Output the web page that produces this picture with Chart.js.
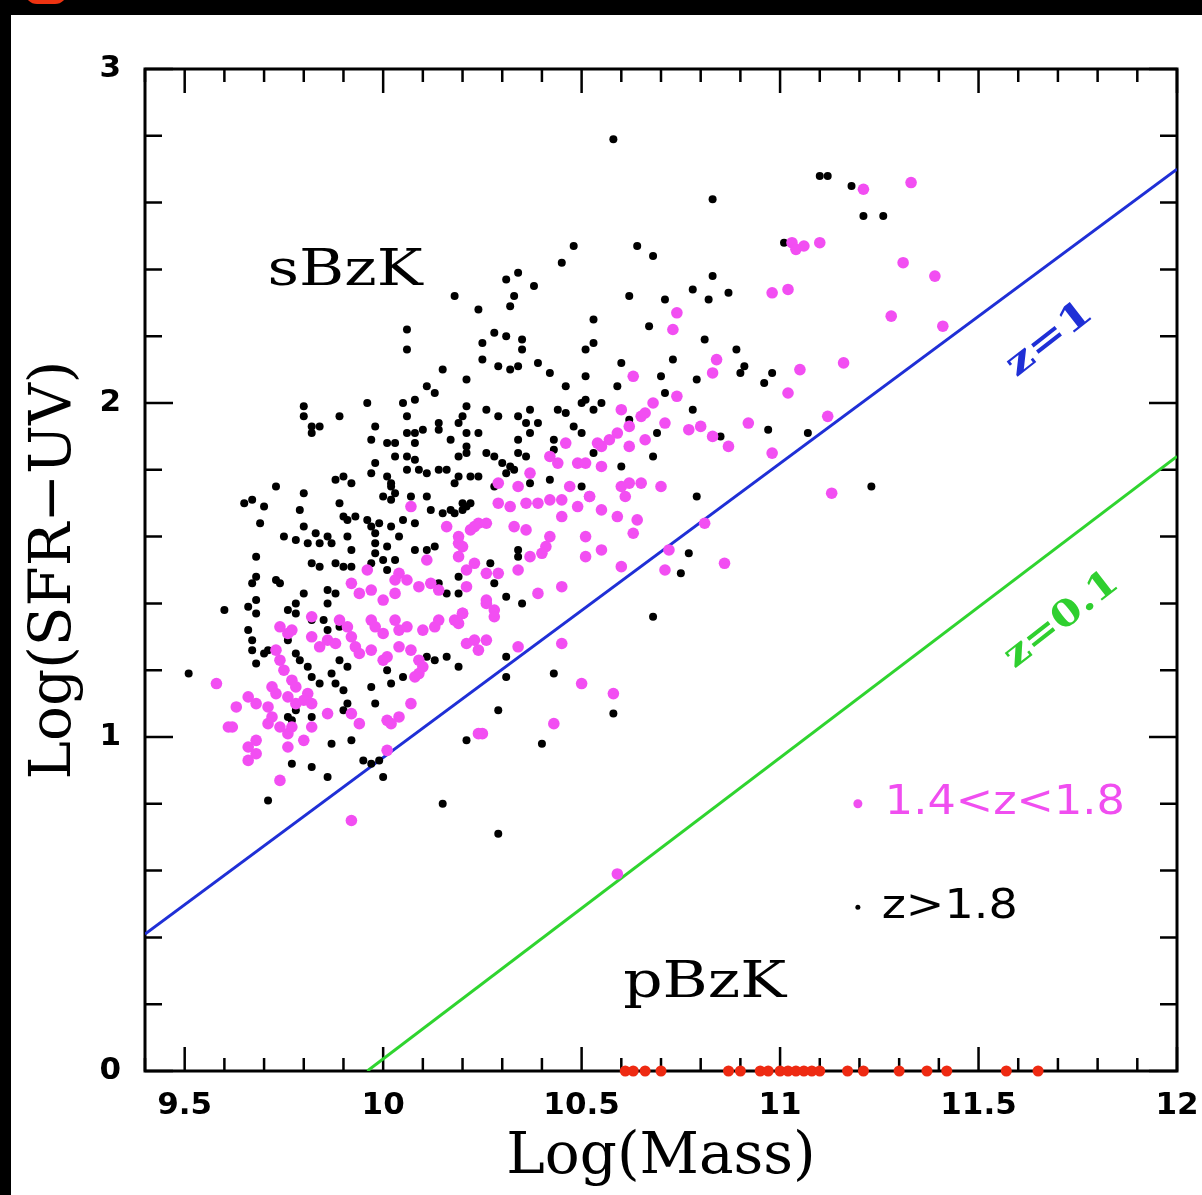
<!DOCTYPE html>
<html>
<head>
<meta charset="utf-8">
<script src="https://cdn.jsdelivr.net/npm/chart.js@4.4.1/dist/chart.umd.min.js"></script>
<style>
  html, body { margin: 0; padding: 0; background: #000; overflow: hidden; }
  #sheet { position: absolute; left: 11px; top: 15px; width: 1191px; height: 1180px; background: #fff; }
  #blob { position: absolute; left: 25px; top: -20px; width: 42px; height: 24px; border-radius: 12px; background: #ee3311; }
  #chart { position: absolute; left: 0; top: 0; }
</style>
</head>
<body>
<div id="sheet"></div>
<div id="blob"></div>
<canvas id="chart" width="1202" height="1195"></canvas>
<script>
// galaxies with z > 1.8 : [log mass, log SFR]
const highZ = [
  [10.58,2.79],[10.83,2.61],[11.10,2.68],[11.12,2.68],[11.18,2.65],[11.21,2.56],[11.26,2.56],[11.01,2.48],
  [10.48,2.47],[10.64,2.47],[10.68,2.44],[10.45,2.42],[10.34,2.39],[10.31,2.37],[10.38,2.35],[10.33,2.32],
  [10.32,2.29],[10.18,2.32],[10.24,2.28],[10.62,2.32],[10.71,2.31],[10.78,2.34],[10.83,2.38],[10.82,2.31],
  [10.87,2.33],[10.53,2.25],[10.67,2.23],[10.06,2.22],[10.06,2.16],[10.25,2.18],[10.25,2.13],[10.28,2.21],
  [10.31,2.20],[10.35,2.19],[10.35,2.16],[10.51,2.16],[10.53,2.18],[10.81,2.19],[10.15,2.10],[10.21,2.07],
  [10.11,2.05],[10.13,2.03],[10.29,2.11],[10.32,2.10],[10.34,2.11],[10.39,2.12],[10.42,2.09],[10.60,2.12],
  [10.73,2.13],[10.89,2.16],[10.51,2.08],[10.46,2.05],[10.70,2.08],[10.59,2.05],[10.79,2.07],[10.90,2.09],
  [10.96,2.06],[10.98,2.09],[10.91,2.11],
  [9.80,1.99],[9.80,1.96],[9.82,1.93],[9.84,1.93],[9.82,1.91],[9.89,1.96],[9.96,2.00],[10.05,2.00],
  [10.08,2.01],[10.06,1.96],[9.98,1.93],[10.06,1.91],[10.08,1.91],[10.10,1.92],[10.14,1.94],[10.14,1.92],
  [10.21,1.99],[10.20,1.96],[10.19,1.94],[10.21,1.91],[10.26,1.98],[9.97,1.89],[10.01,1.88],[10.03,1.88],
  [10.08,1.88],[10.17,1.89],[10.21,1.87],[10.24,1.91],[10.29,1.96],[10.34,1.96],[10.37,1.98],[10.36,1.94],
  [10.39,1.94],[10.37,1.91],[10.44,1.98],[10.46,1.97],[10.50,2.00],[10.51,2.01],[10.55,2.00],[10.53,1.98],
  [10.34,1.89],[10.43,1.89],[10.48,1.93],[10.50,1.91],[10.71,2.03],[10.78,1.98],[10.69,1.91],[10.85,1.90],
  [10.97,1.92],[10.62,1.95],[11.07,1.91],[11.23,1.75],
  [10.21,1.85],[10.19,1.84],[10.26,1.85],[10.03,1.84],[9.98,1.82],[10.06,1.84],[10.08,1.83],[9.88,1.77],
  [9.92,1.76],[9.90,1.78],[9.97,1.79],[10.01,1.78],[10.02,1.76],[10.02,1.75],[10.06,1.80],[10.09,1.80],
  [10.11,1.79],[10.14,1.80],[10.16,1.80],[10.19,1.78],[10.18,1.76],[10.22,1.78],[10.24,1.78],[10.28,1.84],
  [10.30,1.82],[10.32,1.81],[10.34,1.85],[10.36,1.84],[10.31,1.79],[10.33,1.80],[10.43,1.86],[10.53,1.85],
  [10.60,1.81],[10.68,1.84],[10.28,1.75],[10.22,1.70],[10.20,1.68],[10.18,1.67],[10.42,1.77],[10.37,1.76],
  [10.50,1.75],[10.79,1.72],
  [9.73,1.75],[9.80,1.73],[9.65,1.70],[9.67,1.71],[9.70,1.69],[9.69,1.64],[9.79,1.68],[9.89,1.70],
  [9.90,1.66],[10.00,1.72],[10.02,1.71],[10.03,1.73],[10.07,1.72],[10.11,1.72],[10.12,1.68],[10.15,1.67],
  [10.17,1.68],[10.20,1.70],[10.21,1.69],[9.91,1.65],[9.93,1.66],[9.96,1.65],[9.97,1.63],[9.99,1.64],
  [10.02,1.63],[10.05,1.65],[10.08,1.64],[9.80,1.63],[9.83,1.61],[9.86,1.60],[9.87,1.58],[9.91,1.60],
  [9.92,1.56],[9.98,1.61],[9.98,1.58],[9.98,1.55],[10.00,1.53],[10.01,1.57],[10.04,1.60],[9.75,1.60],
  [9.78,1.59],[9.81,1.58],[9.84,1.58],[10.08,1.56],[10.11,1.56],[10.13,1.57],
  [9.68,1.54],[9.68,1.48],[9.67,1.46],[9.68,1.41],[9.74,1.46],[9.73,1.47],[9.82,1.52],[9.84,1.51],
  [9.88,1.52],[9.90,1.51],[9.92,1.51],[9.97,1.52],[10.01,1.50],[10.03,1.53],[9.86,1.44],[9.88,1.43],
  [9.86,1.40],[9.80,1.43],[9.78,1.40],[9.76,1.38],[10.14,1.46],[10.16,1.43],[10.19,1.43],[9.60,1.38],
  [9.66,1.39],[9.68,1.37],[9.78,1.37],[9.82,1.35],[9.85,1.35],[9.86,1.32],[9.89,1.33],[9.66,1.32],
  [9.67,1.29],[9.67,1.26],[9.70,1.25],[9.68,1.22],[9.71,1.26],[9.76,1.29],[9.78,1.25],[9.79,1.23],
  [9.81,1.21],[9.82,1.18],[9.84,1.16],[9.89,1.23],[9.91,1.21],[9.87,1.19],[9.88,1.16],[9.90,1.14],
  [9.91,1.10],[9.90,1.08],[9.97,1.15],[9.98,1.10],[10.01,1.20],[10.05,1.18],[10.02,1.16],[10.11,1.24],
  [10.13,1.23],[10.16,1.24],[10.19,1.21],[9.51,1.19],[9.76,1.06],[9.78,1.08],[9.82,1.06],[9.87,0.98],
  [9.92,0.99],[10.21,0.99],[9.77,0.92],[9.82,0.91],[9.95,0.93],[9.97,0.92],[9.77,1.05],[9.86,0.88],
  [9.99,0.93],[10.00,0.88],[9.71,0.81],[10.15,0.80],[10.29,0.71],
  [10.34,1.56],[10.34,1.54],[10.27,1.52],[10.28,1.46],[10.19,1.48],[10.31,1.42],[10.35,1.40],[10.77,1.55],
  [10.75,1.49],[10.68,1.36],[10.31,1.24],[10.31,1.18],[10.43,1.19],[10.29,1.08],[10.58,1.07],[10.40,0.98]
]

// galaxies with 1.4 < z < 1.8
const midZ = [
  [11.21,2.64],[11.33,2.66],[11.03,2.48],[11.04,2.46],[11.06,2.47],[11.10,2.48],[11.31,2.42],[11.39,2.38],
  [10.98,2.33],[11.02,2.34],[11.28,2.26],[11.41,2.23],[11.16,2.12],[11.05,2.10],[11.02,2.03],[10.92,1.94],
  [11.12,1.96],[10.98,1.85],[11.13,1.73],
  [10.74,2.27],[10.73,2.22],[10.84,2.13],[10.83,2.09],[10.63,2.08],[10.74,2.02],[10.68,2.00],[10.60,1.98],
  [10.65,1.96],[10.66,1.97],[10.71,1.94],[10.77,1.92],[10.80,1.93],[10.83,1.90],[10.87,1.87],[10.62,1.93],
  [10.59,1.91],[10.46,1.88],[10.55,1.87],[10.57,1.89],[10.54,1.88],[10.62,1.87],[10.66,1.89],[10.42,1.84],
  [10.44,1.82],[10.49,1.82],[10.51,1.82],[10.55,1.81],[10.37,1.79],[10.29,1.76],[10.34,1.75],[10.47,1.75],
  [10.52,1.72],[10.60,1.75],[10.62,1.76],[10.61,1.72],[10.65,1.76],[10.70,1.75],[10.29,1.70],[10.32,1.69],
  [10.36,1.70],[10.39,1.70],[10.42,1.71],[10.45,1.71],[10.49,1.69],[10.52,1.72],[10.55,1.68],[10.59,1.66],
  [10.64,1.65],[10.63,1.61],[10.45,1.66],[10.24,1.64],[10.26,1.64],[10.22,1.62],[10.33,1.63],[10.36,1.62],
  [10.19,1.58],[10.20,1.57],[10.19,1.54],[10.42,1.60],[10.41,1.57],[10.40,1.55],[10.51,1.60],[10.55,1.56],
  [10.51,1.54],[10.37,1.54],[10.23,1.52],[10.21,1.50],[10.26,1.49],[10.29,1.49],[10.34,1.50],[10.60,1.51],
  [10.72,1.56],[10.71,1.50],[10.81,1.64],[10.86,1.52],[10.21,1.45],[10.39,1.43],[10.45,1.45],[10.26,1.40],
  [10.28,1.38],[10.28,1.36],[10.20,1.37],[10.19,1.34],[10.21,1.28],[10.24,1.26],[10.34,1.27],[10.45,1.28],
  [10.50,1.16],[10.58,1.13],[10.43,1.04],[10.25,1.01],[10.59,0.59],
  [10.07,1.69],[10.16,1.63],[10.19,1.60],[10.23,1.63],[10.11,1.53],[9.96,1.50],[10.04,1.49],[10.03,1.47],
  [10.06,1.47],[10.09,1.45],[10.12,1.46],[10.14,1.44],[9.92,1.46],[9.94,1.43],[9.97,1.44],[10.00,1.41],
  [10.03,1.43],[10.26,1.41],[9.82,1.36],[9.74,1.33],[9.76,1.31],[9.77,1.32],[9.89,1.35],[9.91,1.33],
  [9.97,1.35],[9.98,1.33],[10.00,1.31],[10.03,1.35],[10.04,1.32],[10.06,1.33],[10.10,1.32],[10.13,1.33],
  [10.14,1.35],[10.18,1.35],[10.20,1.37],[10.23,1.29],[9.82,1.30],[9.86,1.29],[9.84,1.27],[9.88,1.28],
  [9.92,1.30],[9.93,1.27],[9.94,1.25],[9.97,1.26],[10.00,1.23],[10.01,1.24],[10.04,1.27],[10.07,1.26],
  [10.09,1.23],[10.09,1.19],[10.10,1.21],[10.08,1.18],[10.26,1.29],[9.73,1.26],[9.74,1.23],[9.75,1.20],
  [9.77,1.17],[9.78,1.15],[9.81,1.13],[9.80,1.11],[9.82,1.10],[9.72,1.15],[9.73,1.13],[9.76,1.12],
  [9.78,1.10],[9.66,1.12],[9.68,1.10],[9.71,1.09],[9.58,1.16],[9.63,1.09],[9.61,1.03],[9.71,1.04],
  [9.72,1.06],[9.74,1.03],[9.76,1.01],[9.77,1.03],[9.82,1.03],[9.86,1.07],[9.92,1.07],[9.94,1.04],
  [10.01,1.05],[10.04,1.06],[10.07,1.10],[9.66,0.97],[9.68,0.95],[9.66,0.93],[9.68,0.99],[9.76,0.97],
  [9.80,0.99],[10.01,0.96],[10.24,1.01],[9.62,1.03],[9.74,0.87],[9.92,0.75],[10.02,1.04]
]

// passive galaxies (pBzK) sitting on the x axis
const passiveMass = [10.61, 10.63, 10.66, 10.70, 10.87, 10.90, 10.95, 10.97, 11.00, 11.02, 11.04,
  11.06, 11.08, 11.10, 11.17, 11.21, 11.30, 11.37, 11.42, 11.57, 11.65]

// main sequence lines, endpoints
const lineZ1 = [[9.4, 0.41], [12, 2.70]]
const lineZ01 = [[9.96, 0], [12, 1.84]]

const xMajor = [9.5, 10, 10.5, 11, 11.5, 12]
const xTickLabels = ['9.5', '10', '10.5', '11', '11.5', '12']
const yMajor = [0, 1, 2, 3]
const yTickLabels = ['0', '1', '2', '3']

const toXY = arr => arr.map(p => ({x: p[0], y: p[1]}))
const labelFor = (majors, labels) => v => {
  const i = majors.findIndex(m => Math.abs(m - v) < 1e-6)
  return i >= 0 ? labels[i] : ''
}

// text drawn over the plot, anchored in data coordinates
const notes = [
  {text: 'sBzK', at: [9.904, 2.392], font: '50px "DejaVu Serif"', color: '#000', width: 155, rot: 0, align: 'center'},
  {text: 'pBzK', at: [10.81, 0.26], font: '50px "DejaVu Serif"', color: '#000', width: 163, rot: 0, align: 'center'},
  {text: 'z=1', at: [11.68, 2.19], font: 'bold 36px "DejaVu Serif"', color: '#1f2fd6', width: 100, rot: -38, align: 'center'},
  {text: 'z=0.1', at: [11.71, 1.35], font: 'bold 36px "DejaVu Serif"', color: '#2fcf2f', width: 135, rot: -38, align: 'center'},
  {text: '1.4<z<1.8', at: [11.264, 0.80], font: '40px "DejaVu Sans"', color: '#f04ef0', width: 240, rot: 0, align: 'left'},
  {text: 'z>1.8', at: [11.256, 0.49], font: '40px "DejaVu Sans"', color: '#000', width: 136, rot: 0, align: 'left'}
]
const keyDots = [
  {at: [11.196, 0.80], r: 4.5, color: '#f04ef0'},
  {at: [11.196, 0.49], r: 2.5, color: '#000'}
]

const frameTicks = {
  id: 'frameTicks',
  beforeDatasetsDraw(chart) {
    const {ctx, chartArea: a, scales: {x, y}} = chart
    ctx.save()
    ctx.strokeStyle = '#000'
    ctx.lineWidth = 3
    ctx.strokeRect(a.left, a.top, a.right - a.left, a.bottom - a.top)
    ctx.lineWidth = 2.5
    ctx.beginPath()
    x.ticks.forEach(t => {
      const px = x.getPixelForValue(t.value)
      const len = xMajor.some(m => Math.abs(m - t.value) < 1e-6) ? 24 : 13
      ctx.moveTo(px, a.bottom); ctx.lineTo(px, a.bottom - len)
      ctx.moveTo(px, a.top); ctx.lineTo(px, a.top + len)
    })
    y.ticks.forEach(t => {
      const py = y.getPixelForValue(t.value)
      const len = yMajor.some(m => Math.abs(m - t.value) < 1e-6) ? 28 : 17
      ctx.moveTo(a.left, py); ctx.lineTo(a.left + len, py)
      ctx.moveTo(a.right, py); ctx.lineTo(a.right - len, py)
    })
    ctx.stroke()
    ctx.restore()
  },
  afterDatasetsDraw(chart) {
    const {ctx, scales: {x, y}} = chart
    ctx.save()
    notes.forEach(n => {
      ctx.save()
      ctx.font = n.font
      ctx.fillStyle = n.color
      ctx.textAlign = n.align
      ctx.textBaseline = 'middle'
      ctx.translate(x.getPixelForValue(n.at[0]), y.getPixelForValue(n.at[1]))
      ctx.rotate(n.rot * Math.PI / 180)
      ctx.scale(n.width / ctx.measureText(n.text).width, 1)
      ctx.fillText(n.text, 0, 0)
      ctx.restore()
    })
    keyDots.forEach(d => {
      ctx.beginPath()
      ctx.fillStyle = d.color
      ctx.arc(x.getPixelForValue(d.at[0]), y.getPixelForValue(d.at[1]), d.r, 0, Math.PI * 2)
      ctx.fill()
    })
    ctx.restore()
  }
}

const tickFont = {family: 'DejaVu Sans', weight: 'bold', size: 31}
const titleFont = {family: 'DejaVu Serif', size: 58}

new Chart(document.getElementById('chart'), {
  type: 'scatter',
  data: {
    datasets: [{
      label: 'pBzK',
      data: passiveMass.map(m => ({x: m, y: 0})),
      pointRadius: 5.5,
      pointBorderWidth: 0,
      backgroundColor: '#ee2a12',
      clip: false,
      order: 0
    },
    {
      label: '1.4<z<1.8',
      data: toXY(midZ),
      pointRadius: 5.8,
      pointBorderWidth: 0,
      backgroundColor: '#f24ef2',
      order: 1
    },
    {
      label: 'z>1.8',
      data: toXY(highZ),
      pointRadius: 4,
      pointBorderWidth: 0,
      backgroundColor: '#000',
      order: 2
    },
    {
      type: 'line',
      label: 'z=1',
      data: toXY(lineZ1),
      borderColor: '#1f2fd6',
      borderWidth: 3,
      pointRadius: 0,
      fill: false,
      order: 3
    },
    {
      type: 'line',
      label: 'z=0.1',
      data: toXY(lineZ01),
      borderColor: '#2fd42f',
      borderWidth: 3,
      pointRadius: 0,
      fill: false,
      order: 3
    }]
  },
  options: {
    responsive: false,
    animation: false,
    devicePixelRatio: 1,
    layout: {padding: {left: 0, top: 69, right: 25, bottom: 0}},
    plugins: {legend: {display: false}, tooltip: {enabled: false}},
    scales: {
      x: {
        type: 'linear',
        min: 9.4,
        max: 12,
        grid: {display: false, drawTicks: false},
        border: {display: false},
        afterFit: s => { s.height = 124; s.paddingLeft = 0; s.paddingRight = 0 },
        ticks: {
          stepSize: 0.1,
          autoSkip: false,
          maxRotation: 0,
          padding: 16,
          color: '#000',
          font: tickFont,
          callback: labelFor(xMajor, xTickLabels)
        },
        title: {display: true, text: 'Log(Mass)', color: '#000', font: titleFont, padding: {top: 0, bottom: 2}}
      },
      y: {
        type: 'linear',
        min: 0,
        max: 3,
        grid: {display: false, drawTicks: false},
        border: {display: false},
        afterFit: s => { s.width = 145; s.paddingTop = 0; s.paddingBottom = 0 },
        ticks: {
          stepSize: 0.2,
          autoSkip: false,
          padding: 24,
          color: '#000',
          font: tickFont,
          callback: labelFor(yMajor, yTickLabels)
        },
        title: {display: true, text: 'Log(SFR\u2212UV)', color: '#000', font: titleFont, padding: {top: 20, bottom: 0}}
      }
    }
  },
  plugins: [frameTicks]
})
</script>
</body>
</html>
